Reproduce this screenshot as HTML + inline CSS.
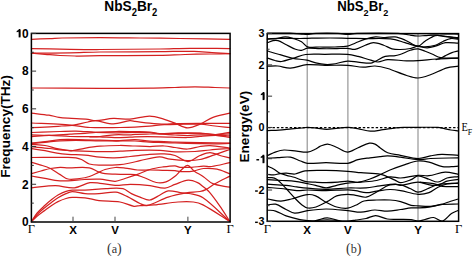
<!DOCTYPE html>
<html><head><meta charset="utf-8"><style>
html,body{margin:0;padding:0;background:#fff;}
#c{position:relative;width:473px;height:256px;overflow:hidden;background:#fff;}
svg{position:absolute;left:0;top:0;font-family:"Liberation Sans",sans-serif;}
</style></head><body><div id="c">
<svg width="473" height="256" viewBox="0 0 473 256">
<g fill="none" stroke="#d42020" stroke-width="1.25" stroke-linejoin="round" stroke-linecap="round">
<path d="M31.50,39.30 C37.67,39.07 43.83,38.86 50.00,38.60 C54.00,38.43 58.00,38.08 62.00,38.00 C74.67,37.75 87.33,37.60 100.00,37.60 C113.33,37.60 126.67,37.85 140.00,38.00 C153.33,38.15 166.67,38.31 180.00,38.50 C196.63,38.74 213.27,39.03 229.90,39.30"/>
<path d="M31.50,48.60 C44.33,48.83 57.17,49.13 70.00,49.30 C80.00,49.43 90.00,49.53 100.00,49.50 C120.00,49.43 140.00,49.27 160.00,49.00 C170.00,48.87 180.00,48.36 190.00,48.30 C203.30,48.22 216.60,48.50 229.90,48.60"/>
<path d="M31.50,53.20 C44.33,53.07 57.17,53.02 70.00,52.80 C80.00,52.62 90.00,52.12 100.00,52.00 C120.00,51.76 140.00,51.85 160.00,51.70 C171.33,51.62 182.67,51.13 194.00,51.30 C200.00,51.39 206.00,52.10 212.00,52.50 C217.97,52.90 223.93,53.30 229.90,53.70"/>
<path d="M31.50,53.20 C36.00,53.57 40.50,53.94 45.00,54.30 C50.00,54.70 55.00,55.22 60.00,55.50 C65.00,55.78 70.00,55.98 75.00,56.00 C83.33,56.04 91.67,55.76 100.00,55.70 C120.00,55.56 140.00,55.68 160.00,55.40 C168.33,55.28 176.67,54.73 185.00,54.50 C193.33,54.27 201.67,54.15 210.00,54.00 C216.63,53.88 223.27,53.80 229.90,53.70"/>
<path d="M31.50,88.00 C54.33,88.10 77.17,88.26 100.00,88.30 C116.67,88.33 133.33,88.38 150.00,88.20 C158.33,88.11 166.67,87.76 175.00,87.50 C181.67,87.29 188.33,86.80 195.00,86.80 C201.67,86.80 208.33,87.27 215.00,87.50 C219.97,87.67 224.93,87.83 229.90,88.00"/>
<path d="M31.50,113.10 C37.33,113.80 43.17,114.31 49.00,115.20 C52.33,115.71 55.67,116.77 59.00,117.30 C62.00,117.77 65.00,117.98 68.00,118.20 C74.67,118.68 81.33,118.80 88.00,119.40 C90.53,119.63 93.07,120.80 95.60,120.70 C101.53,120.47 107.47,118.66 113.40,118.40 C118.90,118.16 124.40,119.55 129.90,119.20 C136.47,118.78 143.03,116.08 149.60,116.10 C154.50,116.11 159.40,117.93 164.30,119.30 C167.87,120.30 171.43,121.89 175.00,123.20 C179.23,124.76 183.47,127.77 187.70,127.90 C191.93,128.03 196.17,125.77 200.40,124.00 C204.60,122.24 208.80,118.85 213.00,117.30 C218.63,115.22 224.27,114.50 229.90,113.10"/>
<path d="M31.50,123.00 C41.57,123.43 51.63,123.73 61.70,124.30 C65.13,124.49 68.57,124.91 72.00,125.30 C78.00,125.98 84.00,127.22 90.00,127.50 C100.00,127.96 110.00,127.59 120.00,127.50 C125.00,127.46 130.00,127.34 135.00,127.10 C139.87,126.87 144.73,126.50 149.60,126.10 C154.50,125.70 159.40,125.01 164.30,124.70 C168.87,124.41 173.43,124.36 178.00,124.30 C185.33,124.20 192.67,123.86 200.00,124.20 C205.00,124.43 210.00,125.45 215.00,126.00 C219.97,126.55 224.93,127.00 229.90,127.50"/>
<path d="M31.50,127.70 C37.67,127.40 43.83,127.15 50.00,126.80 C53.90,126.58 57.80,126.27 61.70,126.00 C65.13,125.77 68.57,125.82 72.00,125.30 C77.33,124.49 82.67,123.04 88.00,122.00 C90.53,121.51 93.07,120.51 95.60,120.70 C101.53,121.14 107.47,123.90 113.40,123.90 C118.90,123.90 124.40,121.36 129.90,120.70 C131.60,120.50 133.30,121.08 135.00,121.30 C139.87,121.92 144.73,122.72 149.60,123.20 C154.50,123.68 159.40,124.12 164.30,124.20 C167.87,124.26 171.43,123.69 175.00,123.60 C183.33,123.39 191.67,123.35 200.00,123.30 C209.97,123.25 219.93,123.30 229.90,123.30"/>
<path d="M31.50,132.50 C41.00,132.17 50.50,131.80 60.00,131.50 C65.33,131.33 70.67,130.98 76.00,131.10 C82.50,131.25 89.00,132.02 95.50,132.30 C102.33,132.59 109.17,132.77 116.00,132.80 C122.33,132.83 128.67,132.56 135.00,132.50 C139.87,132.46 144.73,132.22 149.60,132.50 C152.87,132.69 156.13,133.78 159.40,133.90 C164.60,134.08 169.80,133.46 175.00,133.40 C183.33,133.30 191.67,133.17 200.00,133.40 C205.17,133.54 210.33,134.67 215.50,134.50 C220.30,134.34 225.10,133.10 229.90,132.40"/>
<path d="M31.50,134.80 C37.33,135.00 43.17,135.49 49.00,135.40 C56.00,135.29 63.00,134.61 70.00,134.20 C75.00,133.91 80.00,133.67 85.00,133.30 C88.50,133.04 92.00,132.50 95.50,132.30 C102.33,131.90 109.17,131.60 116.00,131.50 C122.33,131.40 128.67,131.61 135.00,131.70 C140.00,131.77 145.00,131.61 150.00,132.00 C153.13,132.24 156.27,133.47 159.40,133.60 C164.60,133.81 169.80,133.08 175.00,133.00 C183.33,132.88 191.67,132.69 200.00,133.00 C205.17,133.19 210.33,134.34 215.50,134.50 C220.30,134.64 225.10,134.10 229.90,133.90"/>
<path d="M31.50,136.70 C37.33,136.27 43.17,135.43 49.00,135.40 C56.00,135.36 63.00,136.28 70.00,136.50 C76.67,136.71 83.33,136.70 90.00,136.70 C93.33,136.70 96.67,136.76 100.00,136.50 C104.87,136.12 109.73,135.08 114.60,134.80 C119.73,134.51 124.87,134.93 130.00,134.80 C131.67,134.76 133.33,134.37 135.00,134.30 C140.00,134.10 145.00,134.08 150.00,134.00 C153.13,133.95 156.27,133.77 159.40,133.90 C164.60,134.11 169.80,134.69 175.00,135.00 C179.20,135.25 183.40,135.63 187.60,135.60 C191.73,135.57 195.87,134.84 200.00,134.80 C205.17,134.74 210.33,134.87 215.50,135.30 C220.30,135.70 225.10,136.63 229.90,137.30"/>
<path d="M90.00,136.90 C93.33,136.87 96.67,136.69 100.00,136.80 C104.87,136.96 109.73,137.64 114.60,137.70 C119.73,137.77 124.87,137.43 130.00,137.20 C131.67,137.13 133.33,136.82 135.00,136.80 C143.33,136.69 151.67,136.69 160.00,136.80 C169.20,136.92 178.40,137.62 187.60,137.50 C191.73,137.45 195.87,136.63 200.00,136.30 C205.17,135.89 210.33,135.39 215.50,135.30 C220.30,135.22 225.10,135.63 229.90,135.80"/>
<path d="M31.50,143.00 C36.00,142.50 40.50,142.02 45.00,141.50 C50.00,140.92 55.00,140.16 60.00,139.70 C62.67,139.46 65.33,139.39 68.00,139.40 C73.67,139.42 79.33,139.68 85.00,139.80 C90.00,139.91 95.00,140.00 100.00,140.10 C106.67,140.23 113.33,140.58 120.00,140.50 C125.00,140.44 130.00,139.58 135.00,139.70 C139.87,139.82 144.73,140.88 149.60,141.20 C154.40,141.51 159.20,141.43 164.00,141.60 C167.67,141.73 171.33,142.00 175.00,142.10 C183.33,142.33 191.67,142.45 200.00,142.60 C209.97,142.78 219.93,142.93 229.90,143.10"/>
<path d="M31.50,143.40 C36.00,143.03 40.50,142.71 45.00,142.30 C50.00,141.84 55.00,141.12 60.00,140.80 C65.33,140.46 70.67,140.29 76.00,140.30 C84.00,140.32 92.00,140.76 100.00,140.90 C105.33,140.99 110.67,140.98 116.00,141.00 C122.33,141.02 128.67,140.77 135.00,141.00 C139.87,141.17 144.73,141.93 149.60,142.20 C154.40,142.46 159.20,142.45 164.00,142.60 C167.67,142.72 171.33,142.90 175.00,143.00 C183.33,143.23 191.67,143.43 200.00,143.60 C205.00,143.70 210.00,143.83 215.00,143.80 C219.97,143.77 224.93,143.53 229.90,143.40"/>
<path d="M31.50,144.30 C36.00,144.70 40.50,144.72 45.00,145.50 C49.00,146.19 53.00,147.85 57.00,148.70 C60.67,149.48 64.33,149.93 68.00,150.40 C69.57,150.60 71.13,150.90 72.70,150.70 C76.60,150.20 80.50,148.94 84.40,148.30 C89.60,147.44 94.80,146.61 100.00,146.20 C106.67,145.68 113.33,145.54 120.00,145.50 C125.00,145.47 130.00,145.83 135.00,146.00 C140.00,146.17 145.00,146.50 150.00,146.50 C154.77,146.50 159.53,145.81 164.30,146.00 C167.87,146.14 171.43,147.04 175.00,147.50 C179.20,148.04 183.40,149.17 187.60,149.00 C191.73,148.83 195.87,147.13 200.00,146.50 C203.33,145.99 206.67,145.43 210.00,145.60 C216.63,145.93 223.27,147.20 229.90,148.00"/>
<path d="M31.50,146.70 C37.67,147.30 43.83,147.83 50.00,148.50 C53.33,148.86 56.67,149.48 60.00,149.80 C64.23,150.21 68.47,150.50 72.70,150.70 C81.80,151.13 90.90,151.60 100.00,151.70 C106.67,151.77 113.33,151.45 120.00,151.20 C125.00,151.01 130.00,150.50 135.00,150.40 C143.33,150.23 151.67,150.09 160.00,150.40 C165.00,150.59 170.00,151.74 175.00,151.90 C181.67,152.11 188.33,151.86 195.00,151.50 C200.00,151.23 205.00,150.43 210.00,150.00 C216.63,149.43 223.27,149.00 229.90,148.50"/>
<path d="M31.50,148.70 C36.00,149.37 40.50,149.92 45.00,150.70 C49.00,151.39 53.00,152.47 57.00,153.10 C60.67,153.67 64.33,154.03 68.00,154.30 C73.67,154.73 79.33,154.69 85.00,155.20 C90.00,155.65 95.00,156.76 100.00,157.20 C104.87,157.63 109.73,157.91 114.60,157.80 C119.73,157.68 124.87,157.01 130.00,156.50 C136.53,155.85 143.07,154.80 149.60,154.30 C154.50,153.93 159.40,153.67 164.30,153.90 C167.87,154.07 171.43,154.34 175.00,155.50 C179.20,156.87 183.40,161.50 187.60,161.50 C191.73,161.50 195.87,157.16 200.00,155.50 C203.33,154.16 206.67,152.50 210.00,152.50 C213.33,152.50 216.67,154.61 220.00,155.50 C223.30,156.38 226.60,157.03 229.90,157.80"/>
<path d="M31.50,157.50 C43.67,157.43 55.83,157.22 68.00,157.30 C70.67,157.32 73.33,157.37 76.00,157.80 C77.83,158.10 79.67,158.65 81.50,159.50 C84.10,160.71 86.70,163.21 89.30,164.00 C92.87,165.08 96.43,165.03 100.00,165.10 C106.67,165.23 113.33,165.07 120.00,164.60 C123.33,164.37 126.67,163.65 130.00,163.00 C133.33,162.35 136.67,161.40 140.00,160.70 C146.47,159.34 152.93,157.12 159.40,156.80 C162.93,156.62 166.47,158.74 170.00,159.20 C175.87,159.97 181.73,160.44 187.60,160.50 C191.73,160.54 195.87,160.38 200.00,159.50 C204.83,158.48 209.67,156.42 214.50,154.80 C219.63,153.08 224.77,151.27 229.90,149.50"/>
<path d="M31.50,162.40 C34.33,163.20 37.17,163.89 40.00,164.80 C43.47,165.92 46.93,166.82 50.40,168.50 C53.67,170.08 56.93,172.65 60.20,174.60 C62.80,176.15 65.40,178.48 68.00,179.00 C71.87,179.78 75.73,178.95 79.60,178.50 C82.87,178.12 86.13,177.57 89.40,176.50 C92.63,175.44 95.87,173.55 99.10,172.10 C101.07,171.22 103.03,170.06 105.00,169.50 C108.40,168.53 111.80,167.74 115.20,167.50 C118.47,167.27 121.73,167.73 125.00,168.10 C129.17,168.57 133.33,169.68 137.50,170.00 C141.67,170.32 145.83,169.95 150.00,170.00 C154.17,170.05 158.33,170.20 162.50,170.30 C166.67,170.40 170.83,170.31 175.00,170.60 C176.67,170.71 178.33,171.42 180.00,171.50 C183.90,171.69 187.80,171.90 191.70,171.40 C195.60,170.90 199.50,168.84 203.40,168.50 C207.93,168.11 212.47,168.29 217.00,169.20 C221.30,170.06 225.60,172.27 229.90,173.80"/>
<path d="M31.50,173.60 C34.67,172.73 37.83,171.85 41.00,171.00 C44.13,170.15 47.27,169.10 50.40,168.50 C53.67,167.87 56.93,167.43 60.20,167.30 C62.80,167.20 65.40,167.76 68.00,167.80 C75.13,167.92 82.27,166.81 89.40,167.80 C92.63,168.25 95.87,170.90 99.10,172.10 C101.07,172.83 103.03,173.36 105.00,173.60 C108.40,174.02 111.80,173.96 115.20,174.10 C118.47,174.23 121.73,174.32 125.00,174.40 C128.33,174.48 131.67,174.05 135.00,174.60 C137.93,175.08 140.87,176.41 143.80,177.50 C147.97,179.05 152.13,181.67 156.30,182.50 C159.53,183.14 162.77,182.97 166.00,181.90 C169.00,180.91 172.00,178.62 175.00,176.30 C177.00,174.75 179.00,172.05 181.00,170.30 C183.20,168.38 185.40,165.20 187.60,165.30 C189.73,165.40 191.87,169.36 194.00,170.90 C197.13,173.16 200.27,174.57 203.40,176.70 C206.53,178.83 209.67,182.46 212.80,183.70 C218.50,185.96 224.20,186.03 229.90,187.20"/>
<path d="M31.50,176.00 C36.00,176.80 40.50,177.56 45.00,178.40 C48.33,179.02 51.67,180.04 55.00,180.40 C59.33,180.87 63.67,181.03 68.00,180.90 C73.50,180.73 79.00,179.79 84.50,179.50 C89.67,179.23 94.83,178.90 100.00,179.20 C105.07,179.50 110.13,181.44 115.20,181.30 C118.47,181.21 121.73,179.51 125.00,178.50 C129.17,177.21 133.33,175.90 137.50,174.40 C141.67,172.90 145.83,170.73 150.00,169.50 C154.17,168.27 158.33,167.62 162.50,167.00 C166.67,166.38 170.83,165.73 175.00,165.80 C176.67,165.83 178.33,167.15 180.00,167.30 C183.90,167.65 187.80,167.48 191.70,167.30 C195.60,167.12 199.50,166.36 203.40,166.20 C206.13,166.09 208.87,166.87 211.60,166.50 C217.70,165.67 223.80,163.90 229.90,162.60"/>
<path d="M31.50,187.80 C39.47,187.10 47.43,185.70 55.40,185.70 C61.73,185.70 68.07,188.35 74.40,187.80 C79.60,187.35 84.80,183.61 90.00,182.70 C93.33,182.11 96.67,182.96 100.00,183.30 C105.07,183.82 110.13,185.13 115.20,185.30 C120.30,185.47 125.40,184.26 130.50,184.30 C137.00,184.36 143.50,184.88 150.00,185.60 C155.00,186.15 160.00,188.34 165.00,188.10 C168.33,187.94 171.67,185.54 175.00,184.40 C179.40,182.90 183.80,180.55 188.20,180.20 C191.33,179.95 194.47,181.27 197.60,182.60 C199.40,183.37 201.20,185.04 203.00,186.50 C205.13,188.24 207.27,189.72 209.40,192.20 C212.83,196.19 216.27,200.99 219.70,205.90 C223.10,210.76 226.50,216.30 229.90,221.50"/>
<path d="M31.50,221.50 C33.33,218.73 35.17,215.40 37.00,213.20 C39.67,210.00 42.33,207.77 45.00,205.30 C47.33,203.14 49.67,201.15 52.00,199.30 C54.00,197.72 56.00,196.14 58.00,195.00 C60.67,193.48 63.33,192.20 66.00,191.30 C68.07,190.60 70.13,190.33 72.20,190.20 C76.47,189.93 80.73,190.29 85.00,190.10 C92.00,189.79 99.00,188.96 106.00,188.70 C111.67,188.49 117.33,187.61 123.00,188.70 C125.80,189.24 128.60,192.22 131.40,193.60 C134.27,195.02 137.13,196.10 140.00,197.10 C143.27,198.24 146.53,200.34 149.80,200.00 C153.20,199.64 156.60,196.71 160.00,195.00 C162.70,193.64 165.40,191.06 168.10,190.80 C172.80,190.36 177.50,192.29 182.20,192.90 C184.47,193.19 186.73,192.97 189.00,193.50 C193.67,194.60 198.33,194.61 203.00,197.80 C211.97,203.94 220.93,213.60 229.90,221.50"/>
<path d="M31.50,221.50 C33.33,219.20 35.17,216.51 37.00,214.60 C39.67,211.81 42.33,209.64 45.00,207.40 C47.33,205.44 49.67,203.72 52.00,202.00 C54.00,200.52 56.00,199.00 58.00,197.80 C60.67,196.20 63.33,194.75 66.00,193.60 C68.07,192.71 70.13,191.70 72.20,191.70 C76.47,191.70 80.73,193.30 85.00,193.60 C89.67,193.93 94.33,193.81 99.00,193.60 C104.67,193.34 110.33,191.63 116.00,192.20 C119.67,192.57 123.33,194.67 127.00,196.40 C131.33,198.44 135.67,201.51 140.00,203.50 C142.33,204.57 144.67,206.13 147.00,205.60 C154.03,204.00 161.07,199.37 168.10,197.10 C174.20,195.13 180.30,193.97 186.40,192.90 C190.93,192.10 195.47,192.27 200.00,191.50 C201.93,191.17 203.87,190.61 205.80,189.60 C208.87,188.01 211.93,185.42 215.00,183.70 C219.97,180.92 224.93,178.63 229.90,176.10"/>
<path d="M31.50,221.50 C33.33,219.73 35.17,217.73 37.00,216.20 C39.67,213.97 42.33,212.16 45.00,210.20 C47.33,208.49 49.67,206.74 52.00,205.20 C54.00,203.88 56.00,202.56 58.00,201.60 C60.67,200.32 63.33,199.29 66.00,198.50 C68.07,197.89 70.13,197.48 72.20,197.40 C76.47,197.24 80.73,197.29 85.00,197.80 C89.67,198.36 94.33,200.04 99.00,200.60 C106.00,201.44 113.00,200.86 120.00,202.00 C124.67,202.76 129.33,205.46 134.00,206.30 C136.00,206.66 138.00,205.74 140.00,205.60 C144.67,205.27 149.33,205.34 154.00,204.90 C162.00,204.14 170.00,202.59 178.00,202.00 C183.13,201.62 188.27,201.40 193.40,202.00 C196.60,202.37 199.80,203.19 203.00,204.90 C211.97,209.69 220.93,215.97 229.90,221.50"/>
</g>
<g stroke="#8c8c8c" stroke-width="1.1">
<line x1="307.2" y1="33.6" x2="307.2" y2="221.3"/>
<line x1="347.9" y1="33.6" x2="347.9" y2="221.3"/>
<line x1="418.0" y1="33.6" x2="418.0" y2="221.3"/>
</g>
<line x1="268.2" y1="127.6" x2="458.6" y2="127.6" stroke="#000" stroke-width="1.1" stroke-dasharray="2.4,1.9"/>
<g fill="none" stroke="#000" stroke-width="1.2" stroke-linejoin="round" stroke-linecap="round">
<path d="M267.40,33.20 C274.93,33.20 282.47,33.10 290.00,33.20 C292.33,33.23 294.67,33.42 297.00,33.60 C299.00,33.75 301.00,34.05 303.00,34.20 C304.50,34.31 306.00,34.44 307.50,34.40 C308.67,34.37 309.83,34.15 311.00,34.00 C312.67,33.78 314.33,33.34 316.00,33.30 C323.33,33.11 330.67,33.11 338.00,33.30 C339.67,33.34 341.33,33.81 343.00,34.00 C344.50,34.17 346.00,34.40 347.50,34.40 C349.00,34.40 350.50,34.17 352.00,34.00 C353.67,33.81 355.33,33.33 357.00,33.30 C370.67,33.09 384.33,33.04 398.00,33.30 C400.33,33.34 402.67,33.84 405.00,34.20 C407.00,34.51 409.00,35.01 411.00,35.30 C413.17,35.61 415.33,35.95 417.50,36.00 C420.00,36.05 422.50,35.73 425.00,35.60 C428.43,35.43 431.87,34.93 435.30,35.10 C438.70,35.27 442.10,36.23 445.50,36.60 C449.83,37.07 454.17,37.27 458.50,37.60"/>
<path d="M430.00,33.60 C435.00,33.67 440.00,33.71 445.00,33.80 C449.50,33.88 454.00,34.00 458.50,34.10"/>
<path d="M267.40,38.90 C271.60,38.70 275.80,38.35 280.00,38.30 C286.67,38.22 293.33,38.50 300.00,38.50 C302.50,38.50 305.00,38.34 307.50,38.30 C315.00,38.17 322.50,38.00 330.00,38.00 C335.83,38.00 341.67,38.20 347.50,38.30 C353.33,38.40 359.17,38.55 365.00,38.60 C371.67,38.65 378.33,38.38 385.00,38.60 C388.33,38.71 391.67,38.92 395.00,39.60 C398.33,40.28 401.67,41.71 405.00,42.70 C409.33,43.98 413.67,45.40 418.00,46.40 C421.07,47.10 424.13,47.84 427.20,47.80 C429.90,47.77 432.60,46.95 435.30,46.20 C438.70,45.25 442.10,43.14 445.50,42.70 C449.83,42.14 454.17,43.03 458.50,43.20"/>
<path d="M267.40,42.70 C269.27,42.03 271.13,41.05 273.00,40.70 C274.67,40.39 276.33,40.23 278.00,40.70 C280.43,41.39 282.87,43.00 285.30,44.20 C288.70,45.87 292.10,48.02 295.50,49.30 C297.50,50.05 299.50,50.50 301.50,50.30 C303.50,50.10 305.50,48.27 307.50,48.10 C311.67,47.74 315.83,48.61 320.00,48.70 C325.00,48.81 330.00,48.77 335.00,48.70 C339.17,48.64 343.33,48.17 347.50,48.30 C350.00,48.38 352.50,49.74 355.00,49.30 C358.43,48.70 361.87,46.43 365.30,45.20 C368.00,44.23 370.70,42.70 373.40,42.70 C376.80,42.70 380.20,44.08 383.60,45.20 C386.40,46.12 389.20,48.07 392.00,48.80 C394.67,49.50 397.33,49.54 400.00,49.50 C403.47,49.44 406.93,49.14 410.40,48.50 C412.93,48.04 415.47,46.49 418.00,46.20 C420.33,45.93 422.67,46.93 425.00,46.80 C428.43,46.60 431.87,46.24 435.30,45.20 C438.00,44.38 440.70,42.37 443.40,41.20 C445.77,40.17 448.13,38.93 450.50,38.60 C453.17,38.23 455.83,38.93 458.50,39.10"/>
<path d="M267.40,39.10 C270.27,38.93 273.13,38.95 276.00,38.60 C279.10,38.22 282.20,36.90 285.30,36.90 C288.00,36.90 290.70,37.80 293.40,38.60 C296.10,39.40 298.80,40.13 301.50,41.70 C303.50,42.86 305.50,46.23 307.50,46.80 C311.67,47.99 315.83,46.97 320.00,47.00 C325.00,47.04 330.00,47.15 335.00,47.00 C339.17,46.88 343.33,46.99 347.50,46.20 C350.00,45.73 352.50,44.20 355.00,43.20 C358.43,41.83 361.87,40.16 365.30,39.10 C368.70,38.06 372.10,37.16 375.50,36.90 C378.67,36.66 381.83,37.60 385.00,37.60 C388.33,37.60 391.67,36.47 395.00,36.90 C398.43,37.34 401.87,38.81 405.30,40.20 C409.53,41.91 413.77,45.99 418.00,46.20 C420.33,46.32 422.67,42.63 425.00,41.20 C428.43,39.10 431.87,36.55 435.30,35.60 C438.00,34.85 440.70,35.75 443.40,36.10 C448.43,36.75 453.47,37.77 458.50,38.60"/>
<path d="M267.40,50.80 C268.50,51.20 269.60,51.66 270.70,52.00 C273.80,52.96 276.90,53.82 280.00,54.70 C284.30,55.92 288.60,57.42 292.90,58.30 C297.57,59.25 302.23,59.28 306.90,60.20 C309.87,60.78 312.83,62.11 315.80,62.80 C318.87,63.51 321.93,64.16 325.00,64.40 C327.57,64.60 330.13,64.47 332.70,64.10 C337.70,63.37 342.70,61.48 347.70,61.10 C351.13,60.84 354.57,61.89 358.00,62.20 C362.27,62.59 366.53,63.38 370.80,63.20 C372.20,63.14 373.60,62.16 375.00,61.50 C378.40,59.89 381.80,57.42 385.20,56.40 C388.13,55.52 391.07,56.18 394.00,55.80 C396.00,55.54 398.00,55.17 400.00,54.50 C403.47,53.34 406.93,51.40 410.40,50.30 C412.93,49.50 415.47,48.63 418.00,48.80 C420.40,48.96 422.80,50.41 425.20,51.30 C427.47,52.14 429.73,53.05 432.00,54.00 C434.83,55.19 437.67,57.07 440.50,57.70 C443.67,58.40 446.83,57.93 450.00,58.00 C452.83,58.06 455.67,58.07 458.50,58.10"/>
<path d="M267.40,58.10 C269.93,58.90 272.47,59.89 275.00,60.50 C277.17,61.02 279.33,61.77 281.50,61.50 C285.30,61.03 289.10,59.40 292.90,58.30 C297.13,57.07 301.37,55.03 305.60,54.50 C312.07,53.69 318.53,54.33 325.00,54.30 C332.57,54.26 340.13,53.82 347.70,54.30 C351.13,54.52 354.57,55.52 358.00,56.40 C362.27,57.49 366.53,59.01 370.80,60.20 C373.20,60.87 375.60,62.09 378.00,62.00 C381.23,61.89 384.47,59.72 387.70,59.60 C394.03,59.36 400.37,60.69 406.70,60.90 C410.47,61.02 414.23,60.84 418.00,60.60 C424.23,60.21 430.47,59.38 436.70,59.00 C443.97,58.55 451.23,58.40 458.50,58.10"/>
<path d="M267.40,66.20 C270.83,66.13 274.27,65.70 277.70,66.00 C281.93,66.37 286.17,68.39 290.40,68.20 C295.90,67.96 301.40,65.16 306.90,64.70 C312.93,64.19 318.97,65.21 325.00,65.30 C332.57,65.41 340.13,64.92 347.70,65.30 C352.83,65.56 357.97,67.07 363.10,67.20 C367.07,67.30 371.03,65.79 375.00,66.00 C379.23,66.22 383.47,67.23 387.70,68.50 C394.03,70.40 400.37,73.51 406.70,75.50 C410.47,76.68 414.23,78.11 418.00,78.00 C422.13,77.88 426.27,76.24 430.40,74.80 C435.90,72.88 441.40,69.58 446.90,67.90 C450.77,66.72 454.63,66.77 458.50,66.20"/>
<path d="M436.00,59.60 C437.50,59.20 439.00,59.03 440.50,58.40 C442.17,57.70 443.83,56.44 445.50,55.60 C447.67,54.51 449.83,53.38 452.00,52.60 C454.17,51.82 456.33,51.47 458.50,50.90"/>
<path d="M267.40,130.60 C271.27,130.43 275.13,130.37 279.00,130.10 C283.20,129.80 287.40,129.28 291.60,128.90 C295.07,128.58 298.53,128.33 302.00,128.00 C303.83,127.83 305.67,127.39 307.50,127.40 C310.50,127.42 313.50,127.80 316.50,128.10 C319.87,128.43 323.23,129.30 326.60,129.30 C330.40,129.30 334.20,128.44 338.00,128.10 C341.27,127.81 344.53,127.30 347.80,127.40 C351.10,127.50 354.40,128.15 357.70,128.70 C361.93,129.41 366.17,131.03 370.40,131.20 C374.60,131.37 378.80,130.26 383.00,129.70 C387.27,129.13 391.53,128.25 395.80,127.80 C398.87,127.48 401.93,127.47 405.00,127.40 C409.33,127.30 413.67,127.30 418.00,127.30 C424.67,127.30 431.33,127.05 438.00,127.40 C440.13,127.51 442.27,128.27 444.40,128.70 C446.53,129.13 448.67,129.65 450.80,130.00 C453.37,130.42 455.93,130.67 458.50,131.00"/>
<path d="M267.40,155.60 C270.00,154.43 272.60,152.98 275.20,152.10 C278.13,151.11 281.07,150.12 284.00,150.00 C288.23,149.82 292.47,150.82 296.70,151.20 C300.30,151.52 303.90,152.51 307.50,152.10 C310.27,151.78 313.03,150.26 315.80,149.00 C317.20,148.36 318.60,146.98 320.00,146.40 C322.53,145.35 325.07,143.94 327.60,144.10 C330.73,144.30 333.87,146.25 337.00,147.50 C340.57,148.92 344.13,152.07 347.70,152.10 C351.17,152.13 354.63,149.12 358.10,147.70 C361.90,146.15 365.70,144.01 369.50,143.20 C371.33,142.81 373.17,143.31 375.00,144.10 C376.67,144.81 378.33,146.56 380.00,147.70 C382.57,149.46 385.13,151.84 387.70,152.80 C391.93,154.38 396.17,154.50 400.40,155.30 C406.27,156.40 412.13,158.38 418.00,158.50 C422.13,158.58 426.27,156.63 430.40,155.90 C434.20,155.23 438.00,154.38 441.80,154.30 C447.37,154.18 452.93,154.97 458.50,155.30"/>
<path d="M267.40,158.20 C270.83,158.00 274.27,157.75 277.70,157.60 C281.93,157.42 286.17,156.57 290.40,157.20 C293.77,157.70 297.13,159.78 300.50,161.00 C302.83,161.85 305.17,163.25 307.50,163.40 C313.67,163.79 319.83,162.62 326.00,162.60 C333.23,162.58 340.47,163.96 347.70,163.30 C351.13,162.99 354.57,160.55 358.00,159.70 C362.00,158.71 366.00,158.36 370.00,157.80 C373.33,157.33 376.67,156.96 380.00,156.60 C382.57,156.32 385.13,155.82 387.70,155.90 C391.93,156.02 396.17,156.67 400.40,157.20 C406.27,157.94 412.13,159.45 418.00,159.70 C422.13,159.88 426.27,158.69 430.40,158.50 C439.77,158.06 449.13,158.03 458.50,157.80"/>
<path d="M267.40,166.10 C269.47,167.03 271.53,167.74 273.60,168.90 C275.73,170.10 277.87,172.14 280.00,173.20 C282.17,174.27 284.33,174.68 286.50,175.30 C289.37,176.12 292.23,176.57 295.10,177.50 C298.40,178.57 301.70,180.54 305.00,181.30 C308.53,182.11 312.07,181.97 315.60,182.20 C319.10,182.43 322.60,182.70 326.10,182.70 C330.07,182.70 334.03,182.49 338.00,182.20 C341.23,181.96 344.47,181.10 347.70,181.10 C351.37,181.10 355.03,182.55 358.70,182.20 C362.47,181.85 366.23,180.34 370.00,179.00 C373.63,177.71 377.27,175.94 380.90,174.30 C383.93,172.94 386.97,171.22 390.00,170.00 C395.00,167.99 400.00,166.21 405.00,164.60 C409.33,163.21 413.67,161.43 418.00,161.00 C421.67,160.63 425.33,161.35 429.00,162.20 C433.50,163.25 438.00,165.80 442.50,166.70 C445.50,167.30 448.50,166.81 451.50,166.70 C453.83,166.61 456.17,166.30 458.50,166.10"/>
<path d="M267.40,174.50 C269.47,174.63 271.53,175.05 273.60,174.90 C275.73,174.75 277.87,173.88 280.00,173.60 C282.17,173.31 284.33,173.14 286.50,173.20 C289.37,173.28 292.23,174.37 295.10,174.00 C298.40,173.57 301.70,171.18 305.00,170.80 C312.03,169.98 319.07,170.32 326.10,170.40 C333.30,170.48 340.50,170.82 347.70,171.30 C352.10,171.59 356.50,172.30 360.90,172.70 C367.57,173.30 374.23,172.85 380.90,174.30 C385.60,175.32 390.30,178.10 395.00,180.10 C396.87,180.90 398.73,182.76 400.60,182.70 C404.10,182.59 407.60,180.97 411.10,179.60 C413.40,178.70 415.70,175.94 418.00,175.90 C421.67,175.84 425.33,178.18 429.00,179.30 C432.00,180.22 435.00,182.22 438.00,182.00 C441.00,181.78 444.00,178.79 447.00,178.00 C450.83,176.99 454.67,177.07 458.50,176.60"/>
<path d="M267.40,177.50 C268.90,177.57 270.40,177.44 271.90,177.70 C273.33,177.94 274.77,178.18 276.20,179.00 C277.63,179.82 279.07,181.22 280.50,182.60 C282.37,184.39 284.23,186.49 286.10,188.50 C289.30,191.95 292.50,195.68 295.70,199.00 C297.80,201.18 299.90,203.41 302.00,205.00 C303.87,206.41 305.73,207.73 307.60,208.00 C310.40,208.40 313.20,207.91 316.00,207.00 C319.73,205.78 323.47,203.60 327.20,201.60 C330.37,199.90 333.53,197.03 336.70,195.90 C340.37,194.59 344.03,194.42 347.70,194.30 C350.33,194.22 352.97,194.88 355.60,195.30 C359.10,195.85 362.60,197.61 366.10,197.20 C369.07,196.85 372.03,194.60 375.00,193.00 C378.33,191.20 381.67,188.82 385.00,187.00 C386.67,186.09 388.33,185.04 390.00,184.80 C393.53,184.30 397.07,184.15 400.60,184.80 C403.73,185.38 406.87,187.17 410.00,188.50 C412.67,189.63 415.33,192.26 418.00,192.20 C421.67,192.12 425.33,189.51 429.00,188.10 C432.00,186.94 435.00,185.01 438.00,184.50 C444.83,183.34 451.67,183.57 458.50,183.10"/>
<path d="M267.40,179.60 C272.33,179.90 277.27,180.18 282.20,180.50 C286.50,180.78 290.80,180.86 295.10,181.40 C299.23,181.92 303.37,182.91 307.50,183.70 C310.20,184.21 312.90,184.69 315.60,185.30 C319.10,186.09 322.60,187.90 326.10,187.90 C329.63,187.90 333.17,186.07 336.70,185.30 C340.37,184.50 344.03,183.68 347.70,183.20 C352.10,182.62 356.50,182.51 360.90,182.10 C366.17,181.61 371.43,181.44 376.70,180.50 C381.13,179.71 385.57,177.36 390.00,176.90 C393.53,176.53 397.07,178.20 400.60,178.00 C406.40,177.67 412.20,175.77 418.00,175.30 C421.67,175.00 425.33,176.13 429.00,175.70 C434.40,175.06 439.80,172.34 445.20,172.10 C449.63,171.90 454.07,173.63 458.50,174.40"/>
<path d="M267.40,184.20 C273.63,184.57 279.87,184.73 286.10,185.30 C289.63,185.63 293.17,186.42 296.70,186.90 C300.30,187.39 303.90,187.91 307.50,188.20 C313.70,188.71 319.90,189.33 326.10,189.30 C333.30,189.26 340.50,188.25 347.70,188.00 C353.83,187.79 359.97,188.32 366.10,187.90 C370.70,187.59 375.30,186.39 379.90,185.80 C384.93,185.16 389.97,184.30 395.00,184.20 C396.87,184.16 398.73,185.56 400.60,185.40 C406.40,184.90 412.20,182.20 418.00,182.20 C422.77,182.20 427.53,184.94 432.30,185.40 C434.87,185.65 437.43,185.05 440.00,184.30 C442.33,183.62 444.67,181.73 447.00,181.10 C450.83,180.06 454.67,179.90 458.50,179.30"/>
<path d="M267.40,187.40 C271.90,187.77 276.40,188.01 280.90,188.50 C286.17,189.08 291.43,190.30 296.70,190.60 C300.30,190.80 303.90,190.00 307.50,190.00 C313.70,190.00 319.90,190.63 326.10,190.60 C333.30,190.56 340.50,189.80 347.70,189.80 C350.33,189.80 352.97,190.18 355.60,190.60 C359.10,191.15 362.60,192.62 366.10,192.70 C369.63,192.78 373.17,191.57 376.70,191.10 C381.13,190.51 385.57,189.59 390.00,189.50 C393.53,189.43 397.07,189.99 400.60,190.60 C406.40,191.59 412.20,193.89 418.00,194.30 C421.67,194.56 425.33,193.90 429.00,192.60 C432.00,191.53 435.00,188.63 438.00,187.20 C441.00,185.77 444.00,184.60 447.00,184.00 C450.83,183.23 454.67,183.40 458.50,183.10"/>
<path d="M420.00,182.20 C424.50,182.67 429.00,182.78 433.50,183.60 C436.50,184.15 439.50,185.93 442.50,186.30 C447.83,186.96 453.17,186.57 458.50,186.70"/>
<path d="M267.40,199.00 C271.90,199.70 276.40,201.10 280.90,201.10 C284.40,201.10 287.90,199.86 291.40,199.00 C296.77,197.69 302.13,195.29 307.50,194.60 C310.20,194.25 312.90,194.80 315.60,195.90 C319.10,197.33 322.60,200.36 326.10,202.20 C329.63,204.06 333.17,206.02 336.70,207.00 C340.37,208.02 344.03,208.53 347.70,208.20 C350.33,207.96 352.97,206.46 355.60,205.30 C358.40,204.06 361.20,201.70 364.00,201.00 C368.23,199.94 372.47,200.16 376.70,200.00 C381.13,199.83 385.57,199.70 390.00,200.00 C393.53,200.24 397.07,200.71 400.60,201.60 C404.10,202.48 407.60,204.46 411.10,205.30 C413.40,205.86 415.70,205.68 418.00,205.80 C422.07,206.01 426.13,206.60 430.20,206.30 C434.30,206.00 438.40,204.99 442.50,204.00 C445.00,203.39 447.50,202.28 450.00,201.50 C452.83,200.61 455.67,199.83 458.50,199.00"/>
<path d="M267.40,205.00 C270.13,204.73 272.87,203.54 275.60,204.20 C279.10,205.04 282.60,207.84 286.10,209.50 C288.93,210.84 291.77,213.05 294.60,213.20 C298.90,213.42 303.20,211.17 307.50,210.60 C313.70,209.77 319.90,209.00 326.10,209.00 C333.30,209.00 340.50,209.94 347.70,210.60 C352.10,211.00 356.50,212.30 360.90,212.20 C365.47,212.10 370.03,210.19 374.60,210.00 C378.83,209.82 383.07,211.18 387.30,211.10 C391.73,211.01 396.17,210.10 400.60,209.50 C404.10,209.03 407.60,208.22 411.10,207.90 C413.40,207.69 415.70,207.99 418.00,207.90 C421.67,207.76 425.33,207.71 429.00,207.20 C433.50,206.58 438.00,204.99 442.50,204.50 C447.83,203.92 453.17,204.17 458.50,204.00"/>
<path d="M267.40,210.00 C270.13,210.37 272.87,210.24 275.60,211.10 C279.10,212.20 282.60,214.68 286.10,215.90 C290.70,217.51 295.30,218.59 299.90,219.60 C302.43,220.16 304.97,220.44 307.50,220.60 C310.20,220.77 312.90,220.98 315.60,220.60 C319.47,220.05 323.33,217.80 327.20,217.80 C331.07,217.80 334.93,219.98 338.80,220.60 C341.77,221.08 344.73,221.19 347.70,221.10 C350.33,221.02 352.97,220.47 355.60,220.10 C359.10,219.61 362.60,219.28 366.10,218.50 C369.30,217.78 372.50,215.52 375.70,215.60 C379.57,215.69 383.43,218.41 387.30,219.00 C391.53,219.64 395.77,219.19 400.00,219.30 C403.70,219.39 407.40,219.25 411.10,219.60 C413.40,219.82 415.70,221.02 418.00,221.00 C420.33,220.98 422.67,220.03 425.00,219.50 C427.83,218.86 430.67,217.26 433.50,217.50 C436.50,217.76 439.50,221.67 442.50,221.00 C445.50,220.33 448.50,215.51 451.50,213.50 C453.83,211.94 456.17,211.37 458.50,210.30"/>
<path d="M315.60,220.60 C319.47,220.33 323.33,219.80 327.20,219.80 C331.07,219.80 334.93,220.33 338.80,220.60"/>
</g>
<rect x="31.4" y="33.4" width="198.7" height="188.6" fill="none" stroke="#000" stroke-width="1.5"/>
<rect x="267.2" y="33.6" width="191.4" height="187.7" fill="none" stroke="#000" stroke-width="1.5"/>
<line x1="31.4" y1="222.00" x2="36.1" y2="222.00" stroke="#333" stroke-width="1"/>
<line x1="31.4" y1="203.14" x2="33.8" y2="203.14" stroke="#333" stroke-width="1"/>
<line x1="31.4" y1="184.28" x2="36.1" y2="184.28" stroke="#333" stroke-width="1"/>
<line x1="31.4" y1="165.42" x2="33.8" y2="165.42" stroke="#333" stroke-width="1"/>
<line x1="31.4" y1="146.56" x2="36.1" y2="146.56" stroke="#333" stroke-width="1"/>
<line x1="31.4" y1="127.70" x2="33.8" y2="127.70" stroke="#333" stroke-width="1"/>
<line x1="31.4" y1="108.84" x2="36.1" y2="108.84" stroke="#333" stroke-width="1"/>
<line x1="31.4" y1="89.98" x2="33.8" y2="89.98" stroke="#333" stroke-width="1"/>
<line x1="31.4" y1="71.12" x2="36.1" y2="71.12" stroke="#333" stroke-width="1"/>
<line x1="31.4" y1="52.26" x2="33.8" y2="52.26" stroke="#333" stroke-width="1"/>
<line x1="31.4" y1="33.40" x2="36.1" y2="33.40" stroke="#333" stroke-width="1"/>
<line x1="267.2" y1="221.30" x2="272.1" y2="221.30" stroke="#333" stroke-width="1"/>
<line x1="267.2" y1="205.66" x2="269.6" y2="205.66" stroke="#333" stroke-width="1"/>
<line x1="267.2" y1="190.02" x2="272.1" y2="190.02" stroke="#333" stroke-width="1"/>
<line x1="267.2" y1="174.38" x2="269.6" y2="174.38" stroke="#333" stroke-width="1"/>
<line x1="267.2" y1="158.73" x2="272.1" y2="158.73" stroke="#333" stroke-width="1"/>
<line x1="267.2" y1="143.09" x2="269.6" y2="143.09" stroke="#333" stroke-width="1"/>
<line x1="267.2" y1="127.45" x2="272.1" y2="127.45" stroke="#333" stroke-width="1"/>
<line x1="267.2" y1="111.81" x2="269.6" y2="111.81" stroke="#333" stroke-width="1"/>
<line x1="267.2" y1="96.17" x2="272.1" y2="96.17" stroke="#333" stroke-width="1"/>
<line x1="267.2" y1="80.53" x2="269.6" y2="80.53" stroke="#333" stroke-width="1"/>
<line x1="267.2" y1="64.88" x2="272.1" y2="64.88" stroke="#333" stroke-width="1"/>
<line x1="267.2" y1="49.24" x2="269.6" y2="49.24" stroke="#333" stroke-width="1"/>
<line x1="267.2" y1="33.60" x2="272.1" y2="33.60" stroke="#333" stroke-width="1"/>
<line x1="73.0" y1="222.0" x2="73.0" y2="216.7" stroke="#444" stroke-width="1"/>
<line x1="115.0" y1="222.0" x2="115.0" y2="216.7" stroke="#444" stroke-width="1"/>
<line x1="187.9" y1="222.0" x2="187.9" y2="216.7" stroke="#444" stroke-width="1"/>
<text x="0" y="0" transform="translate(104.3,10.9) scale(1,1.07)" font-family="Liberation Sans, sans-serif" font-weight="bold" font-size="13.7">NbS<tspan font-size="9.4" dy="5.2">2</tspan><tspan dy="-5.2">Br</tspan><tspan font-size="9.4" dy="5.2">2</tspan></text>
<text x="0" y="0" transform="translate(337.2,10.9) scale(1,1.07)" font-family="Liberation Sans, sans-serif" font-weight="bold" font-size="13.2">NbS<tspan font-size="9.1" dy="5.2">2</tspan><tspan dy="-5.2">Br</tspan><tspan font-size="9.1" dy="5.2">2</tspan></text>
<text x="0" y="0" transform="translate(28.6,226.25) scale(1,1)" font-family="Liberation Sans, sans-serif" font-weight="bold" font-size="11.9" text-anchor="end">0</text>
<text x="0" y="0" transform="translate(28.6,188.53) scale(1,1)" font-family="Liberation Sans, sans-serif" font-weight="bold" font-size="11.9" text-anchor="end">2</text>
<text x="0" y="0" transform="translate(28.6,150.81) scale(1,1)" font-family="Liberation Sans, sans-serif" font-weight="bold" font-size="11.9" text-anchor="end">4</text>
<text x="0" y="0" transform="translate(28.6,113.09) scale(1,1)" font-family="Liberation Sans, sans-serif" font-weight="bold" font-size="11.9" text-anchor="end">6</text>
<text x="0" y="0" transform="translate(28.6,75.37) scale(1,1)" font-family="Liberation Sans, sans-serif" font-weight="bold" font-size="11.9" text-anchor="end">8</text>
<text x="0" y="0" transform="translate(28.6,37.65) scale(1,1)" font-family="Liberation Sans, sans-serif" font-weight="bold" font-size="11.9" text-anchor="end">0</text>
<text x="0" y="0" transform="translate(264.4,37.41) scale(0.93,1)" font-family="Liberation Sans, sans-serif" font-weight="bold" font-size="11.6" text-anchor="end">3</text>
<text x="0" y="0" transform="translate(264.4,68.69) scale(0.93,1)" font-family="Liberation Sans, sans-serif" font-weight="bold" font-size="11.6" text-anchor="end">2</text>
<text x="0" y="0" transform="translate(264.4,131.25) scale(0.93,1)" font-family="Liberation Sans, sans-serif" font-weight="bold" font-size="11.6" text-anchor="end">0</text>
<rect x="256.40" y="159.03" width="2.7" height="1.45" fill="#000"/>
<rect x="255.10" y="190.31" width="2.7" height="1.45" fill="#000"/>
<text x="0" y="0" transform="translate(264.4,193.81) scale(0.93,1)" font-family="Liberation Sans, sans-serif" font-weight="bold" font-size="11.6" text-anchor="end">2</text>
<rect x="255.10" y="221.59" width="2.7" height="1.45" fill="#000"/>
<text x="0" y="0" transform="translate(264.4,225.09) scale(0.93,1)" font-family="Liberation Sans, sans-serif" font-weight="bold" font-size="11.6" text-anchor="end">3</text>
<path d="M20.40,37.40 L20.40,29.10 L18.85,29.10 C18.65,30.00 17.85,30.70 16.65,31.00 L16.65,32.20 C17.65,32.10 18.25,31.80 18.65,31.50 Z" fill="#000"/><path d="M19.52,30.10 L19.52,37.40" stroke="#000" stroke-width="1.75"/>
<path d="M264.40,100.10 L264.40,92.10 L262.80,92.10 C262.60,93.00 261.80,93.70 260.80,94.00 L260.80,95.20 C261.60,95.10 262.20,94.80 262.60,94.50 Z" fill="#000"/><path d="M263.50,93.10 L263.50,100.10" stroke="#000" stroke-width="1.80"/>
<path d="M264.30,163.20 L264.30,154.80 L262.70,154.80 C262.50,155.70 261.70,156.40 260.70,156.70 L260.70,157.90 C261.50,157.80 262.10,157.50 262.50,157.20 Z" fill="#000"/><path d="M263.40,155.80 L263.40,163.20" stroke="#000" stroke-width="1.80"/>
<text x="31.3" y="232.8" font-family="Liberation Serif, serif" font-size="12.5" text-anchor="middle">&#915;</text>
<text x="230.0" y="232.8" font-family="Liberation Serif, serif" font-size="12.5" text-anchor="middle">&#915;</text>
<text x="267.4" y="232.8" font-family="Liberation Serif, serif" font-size="12.5" text-anchor="middle">&#915;</text>
<text x="458.6" y="232.8" font-family="Liberation Serif, serif" font-size="12.5" text-anchor="middle">&#915;</text>
<text x="73.0" y="233.6" font-family="Liberation Sans, sans-serif" font-weight="bold" font-size="11.5" text-anchor="middle">X</text>
<text x="115.0" y="233.6" font-family="Liberation Sans, sans-serif" font-weight="bold" font-size="11.5" text-anchor="middle">V</text>
<text x="187.9" y="233.6" font-family="Liberation Sans, sans-serif" font-weight="bold" font-size="11.5" text-anchor="middle">Y</text>
<text x="307.2" y="233.6" font-family="Liberation Sans, sans-serif" font-weight="bold" font-size="11.5" text-anchor="middle">X</text>
<text x="347.9" y="233.6" font-family="Liberation Sans, sans-serif" font-weight="bold" font-size="11.5" text-anchor="middle">V</text>
<text x="418.0" y="233.6" font-family="Liberation Sans, sans-serif" font-weight="bold" font-size="11.5" text-anchor="middle">Y</text>
<text x="0" y="0" font-family="Liberation Sans, sans-serif" font-weight="bold" font-size="13.6" transform="translate(9.9,177.8) rotate(-90)">Frequency(THz)</text>
<text x="0" y="0" font-family="Liberation Sans, sans-serif" font-weight="bold" font-size="13.6" transform="translate(249.3,162.5) rotate(-90)">Energy(eV)</text>
<text x="107.0" y="253.3" font-family="Liberation Serif, serif" font-size="14" fill="#333">(<tspan font-size="12.2">a</tspan>)</text>
<text x="346.1" y="253.3" font-family="Liberation Serif, serif" font-size="14" fill="#333">(<tspan font-size="12.2">b</tspan>)</text>
<text x="0" y="0" transform="translate(461.6,130.7) scale(0.86,1)" font-family="Liberation Serif, serif" font-size="12.2">E<tspan font-size="9.2" dy="4.2" dx="-0.4">F</tspan></text>
</svg>

</div></body></html>
